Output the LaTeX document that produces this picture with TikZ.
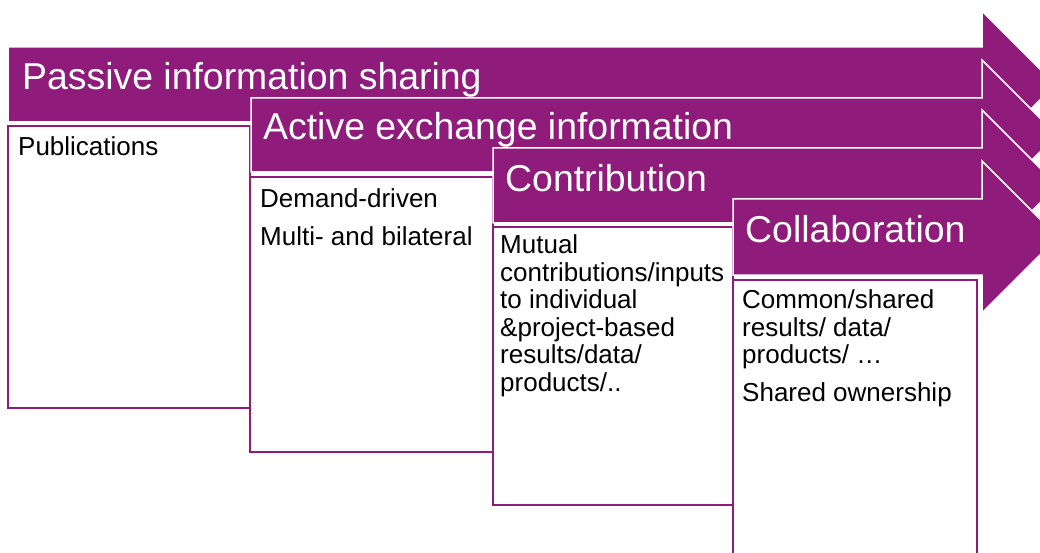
\documentclass[tikz,border=0pt]{standalone}
\usepackage{fontspec}
\setmainfont{Liberation Sans}
\definecolor{StagePurple}{RGB}{143,28,123}

\tikzset{
  stagearrow/.style={fill=StagePurple,draw=white,line width=1.5pt,line join=miter},
  stagebox/.style={draw=StagePurple,fill=white,line width=2pt},
  stagetitle/.style={anchor=base west,inner sep=0,text=white,font=\fontsize{37.4}{40}\selectfont},
  stagetext/.style={anchor=north west,inner sep=0,align=left,font=\fontsize{26}{27.5}\selectfont}
}

\begin{document}
\begin{tikzpicture}[x=1pt,y=-1pt]
\def\headx{982}
\useasboundingbox (0,0) rectangle (1040,553);
\clip (0,0) rectangle (1040,553);

% passive information sharing
\path[stagearrow] (8,47) -- (\headx,47) -- (\headx,11) -- (1055.5,84.5) -- (\headx,158) -- (\headx,122) -- (8,122) -- cycle;
\path[stagebox] (8,126) rectangle (250,408);
\node[stagetitle] (passive) at (22,90) {Passive information sharing};
\node[stagetext] (publications) at (18,136.5) {Publications};

% active exchange
\path[stagearrow] (251,98) -- (\headx,98) -- (\headx,60) -- (1057,135) -- (\headx,210) -- (\headx,172) -- (251,172) -- cycle;
\path[stagebox] (250,177) rectangle (493,452);
\node[stagetitle] (active) at (263,140) {Active exchange information};
\node[stagetext] (demand) at (260,188.5) {Demand-driven\\[10pt]Multi- and bilateral};

% contribution
\path[stagearrow] (493,148) -- (\headx,148) -- (\headx,110) -- (1057.5,185.5) -- (\headx,261) -- (\headx,223) -- (493,223) -- cycle;
\path[stagebox] (493,227) rectangle (733,505);
\node[stagetitle] (contribution) at (505,192) {Contribution};
\node[stagetext] (mutual) at (500,234.5) {Mutual\\contributions/inputs\\to individual\\\&project-based\\results/data/\\products/..};

% collaboration
\path[stagearrow] (733,199) -- (\headx,199) -- (\headx,161) -- (1058,237) -- (\headx,313) -- (\headx,275) -- (733,275) -- cycle;
\path[stagebox] (733,280) rectangle (977,570);
\node[stagetitle] (collaboration) at (745,243) {Collaboration};
\node[stagetext] (common) at (742,289.5) {Common/shared\\results/ data/\\products/ …\\[10pt]Shared ownership};

\end{tikzpicture}
\end{document}
